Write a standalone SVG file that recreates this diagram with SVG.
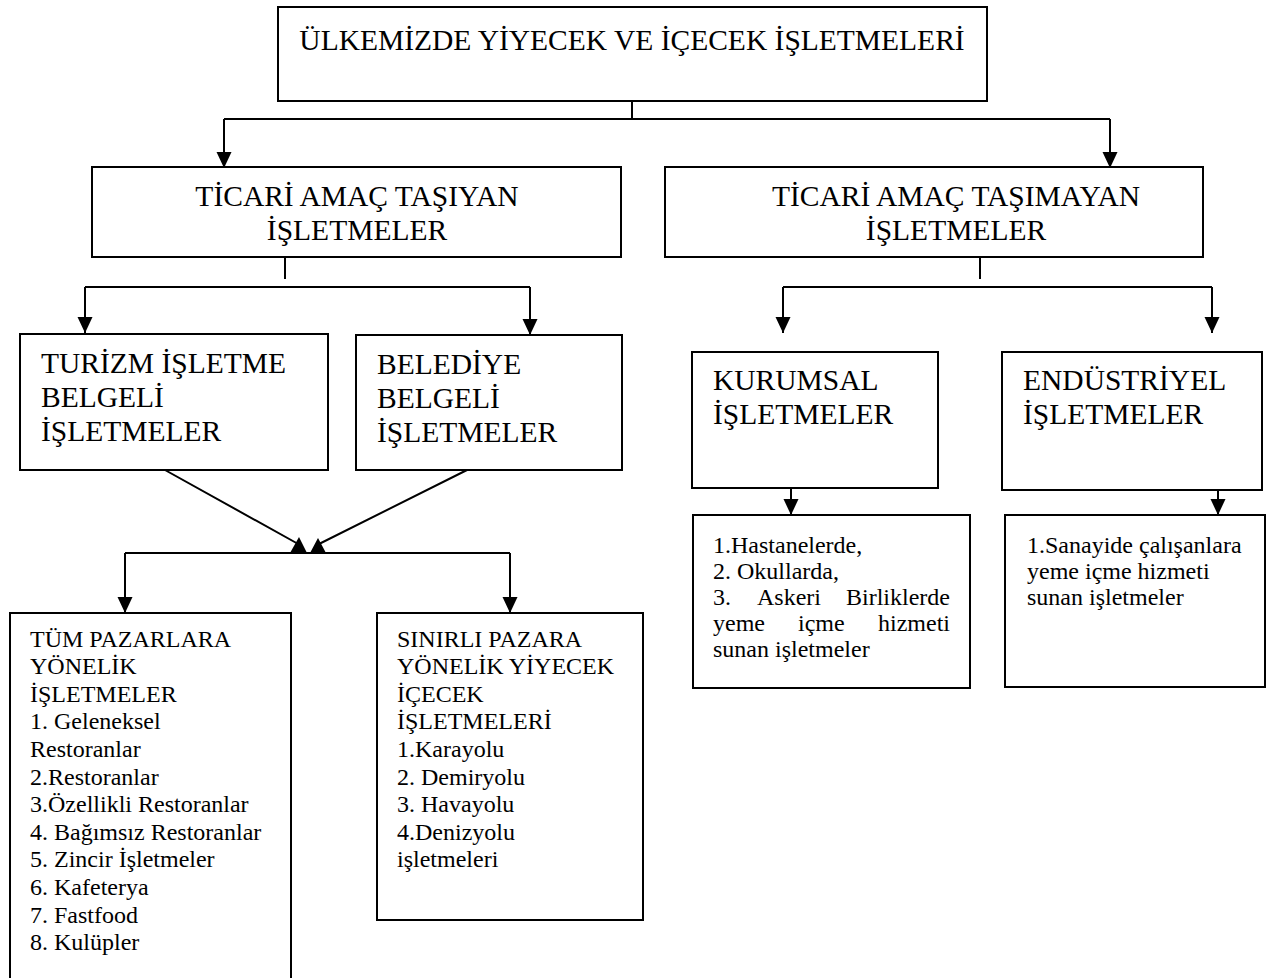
<svg xmlns="http://www.w3.org/2000/svg" width="1281" height="978" viewBox="0 0 1281 978">
<defs>
<style>
.box{fill:#fff;stroke:#000;stroke-width:2}
.ln{fill:none;stroke:#000;stroke-width:2}
.big{font-family:"Liberation Serif","Times New Roman",serif;font-size:29.5px;fill:#000}
.sm{font-family:"Liberation Serif","Times New Roman",serif;font-size:24px;fill:#000}
.mid{text-anchor:middle}
.end{text-anchor:end}
</style>
<marker id="ah" markerUnits="userSpaceOnUse" markerWidth="16" markerHeight="16" refX="16" refY="7.5" orient="auto">
<path d="M0,0 L16,7.5 L0,15 z" fill="#000"/>
</marker>
</defs>
<rect width="1281" height="978" fill="#fff"/>
<g id="connectors">
<path class="ln" d="M632,101 V119 M224,119 H1110"/>
<path class="ln" d="M224,119 V168" marker-end="url(#ah)"/>
<path class="ln" d="M1110,119 V168" marker-end="url(#ah)"/>
<path class="ln" d="M285,257 V279 M85,287 H530"/>
<path class="ln" d="M85,287 V333" marker-end="url(#ah)"/>
<path class="ln" d="M530,287 V335" marker-end="url(#ah)"/>
<path class="ln" d="M980,257 V279 M783,287 H1212"/>
<path class="ln" d="M783,287 V333" marker-end="url(#ah)"/>
<path class="ln" d="M1212,287 V333" marker-end="url(#ah)"/>
<path class="ln" d="M165,470 L300,545 M467,470 L317,545"/>
<polygon points="290,553 299,537 307,553" fill="#000"/>
<polygon points="310,553 318,538 326,553" fill="#000"/>
<path class="ln" d="M125,553 H510"/>
<path class="ln" d="M125,553 V613" marker-end="url(#ah)"/>
<path class="ln" d="M510,553 V613" marker-end="url(#ah)"/>
<path class="ln" d="M791,488 V515" marker-end="url(#ah)"/>
<path class="ln" d="M1218,490 V515" marker-end="url(#ah)"/>
</g>
<g id="n-top">
<rect class="box" x="278" y="7" width="709" height="94"/>
<text class="big mid" x="632" y="49.5">ÜLKEMİZDE YİYECEK VE İÇECEK İŞLETMELERİ</text>
</g>
<g id="n-ticari">
<rect class="box" x="92" y="167" width="529" height="90"/>
<text class="big mid" x="357" y="205.5">TİCARİ AMAÇ TAŞIYAN</text>
<text class="big mid" x="357" y="239.5">İŞLETMELER</text>
</g>
<g id="n-ticari-degil">
<rect class="box" x="665" y="167" width="538" height="90"/>
<text class="big mid" x="956" y="205.5">TİCARİ AMAÇ TAŞIMAYAN</text>
<text class="big mid" x="956" y="239.5">İŞLETMELER</text>
</g>
<g id="n-turizm">
<rect class="box" x="20" y="334" width="308" height="136"/>
<text class="big" x="41" y="373">TURİZM İŞLETME</text>
<text class="big" x="41" y="407">BELGELİ</text>
<text class="big" x="41" y="441">İŞLETMELER</text>
</g>
<g id="n-belediye">
<rect class="box" x="356" y="335" width="266" height="135"/>
<text class="big" x="377" y="374">BELEDİYE</text>
<text class="big" x="377" y="408">BELGELİ</text>
<text class="big" x="377" y="442">İŞLETMELER</text>
</g>
<g id="n-kurumsal">
<rect class="box" x="692" y="352" width="246" height="136"/>
<text class="big" x="713" y="390">KURUMSAL</text>
<text class="big" x="713" y="424">İŞLETMELER</text>
</g>
<g id="n-endustriyel">
<rect class="box" x="1002" y="352" width="260" height="138"/>
<text class="big" x="1023" y="390">ENDÜSTRİYEL</text>
<text class="big" x="1023" y="424">İŞLETMELER</text>
</g>
<g id="n-tum">
<rect class="box" x="10" y="613" width="281" height="380"/>
<text class="sm" x="30" y="646.5">TÜM PAZARLARA</text>
<text class="sm" x="30" y="674.1">YÖNELİK</text>
<text class="sm" x="30" y="701.7">İŞLETMELER</text>
<text class="sm" x="30" y="729.3">1. Geleneksel</text>
<text class="sm" x="30" y="756.9">Restoranlar</text>
<text class="sm" x="30" y="784.5">2.Restoranlar</text>
<text class="sm" x="30" y="812.1">3.Özellikli Restoranlar</text>
<text class="sm" x="30" y="839.7">4. Bağımsız Restoranlar</text>
<text class="sm" x="30" y="867.3">5. Zincir İşletmeler</text>
<text class="sm" x="30" y="894.9">6. Kafeterya</text>
<text class="sm" x="30" y="922.5">7. Fastfood</text>
<text class="sm" x="30" y="950.1">8. Kulüpler</text>
</g>
<g id="n-sinirli">
<rect class="box" x="377" y="613" width="266" height="307"/>
<text class="sm" x="397" y="646.5">SINIRLI PAZARA</text>
<text class="sm" x="397" y="674.1">YÖNELİK YİYECEK</text>
<text class="sm" x="397" y="701.7">İÇECEK</text>
<text class="sm" x="397" y="729.3">İŞLETMELERİ</text>
<text class="sm" x="397" y="756.9">1.Karayolu</text>
<text class="sm" x="397" y="784.5">2. Demiryolu</text>
<text class="sm" x="397" y="812.1">3. Havayolu</text>
<text class="sm" x="397" y="839.7">4.Denizyolu</text>
<text class="sm" x="397" y="867.3">işletmeleri</text>
</g>
<g id="n-kurumsal-liste">
<rect class="box" x="693" y="515" width="277" height="173"/>
<text class="sm" x="713" y="553">1.Hastanelerde,</text>
<text class="sm" x="713" y="579">2. Okullarda,</text>
<text class="sm" y="605"><tspan x="713">3.</tspan><tspan x="757">Askeri</tspan><tspan x="950" class="end">Birliklerde</tspan></text>
<text class="sm" y="631"><tspan x="713">yeme</tspan><tspan x="798">içme</tspan><tspan x="950" class="end">hizmeti</tspan></text>
<text class="sm" x="713" y="657">sunan işletmeler</text>
</g>
<g id="n-endustriyel-liste">
<rect class="box" x="1005" y="515" width="260" height="172"/>
<text class="sm" x="1027" y="553">1.Sanayide çalışanlara</text>
<text class="sm" x="1027" y="579">yeme içme hizmeti</text>
<text class="sm" x="1027" y="605">sunan işletmeler</text>
</g>
</svg>
